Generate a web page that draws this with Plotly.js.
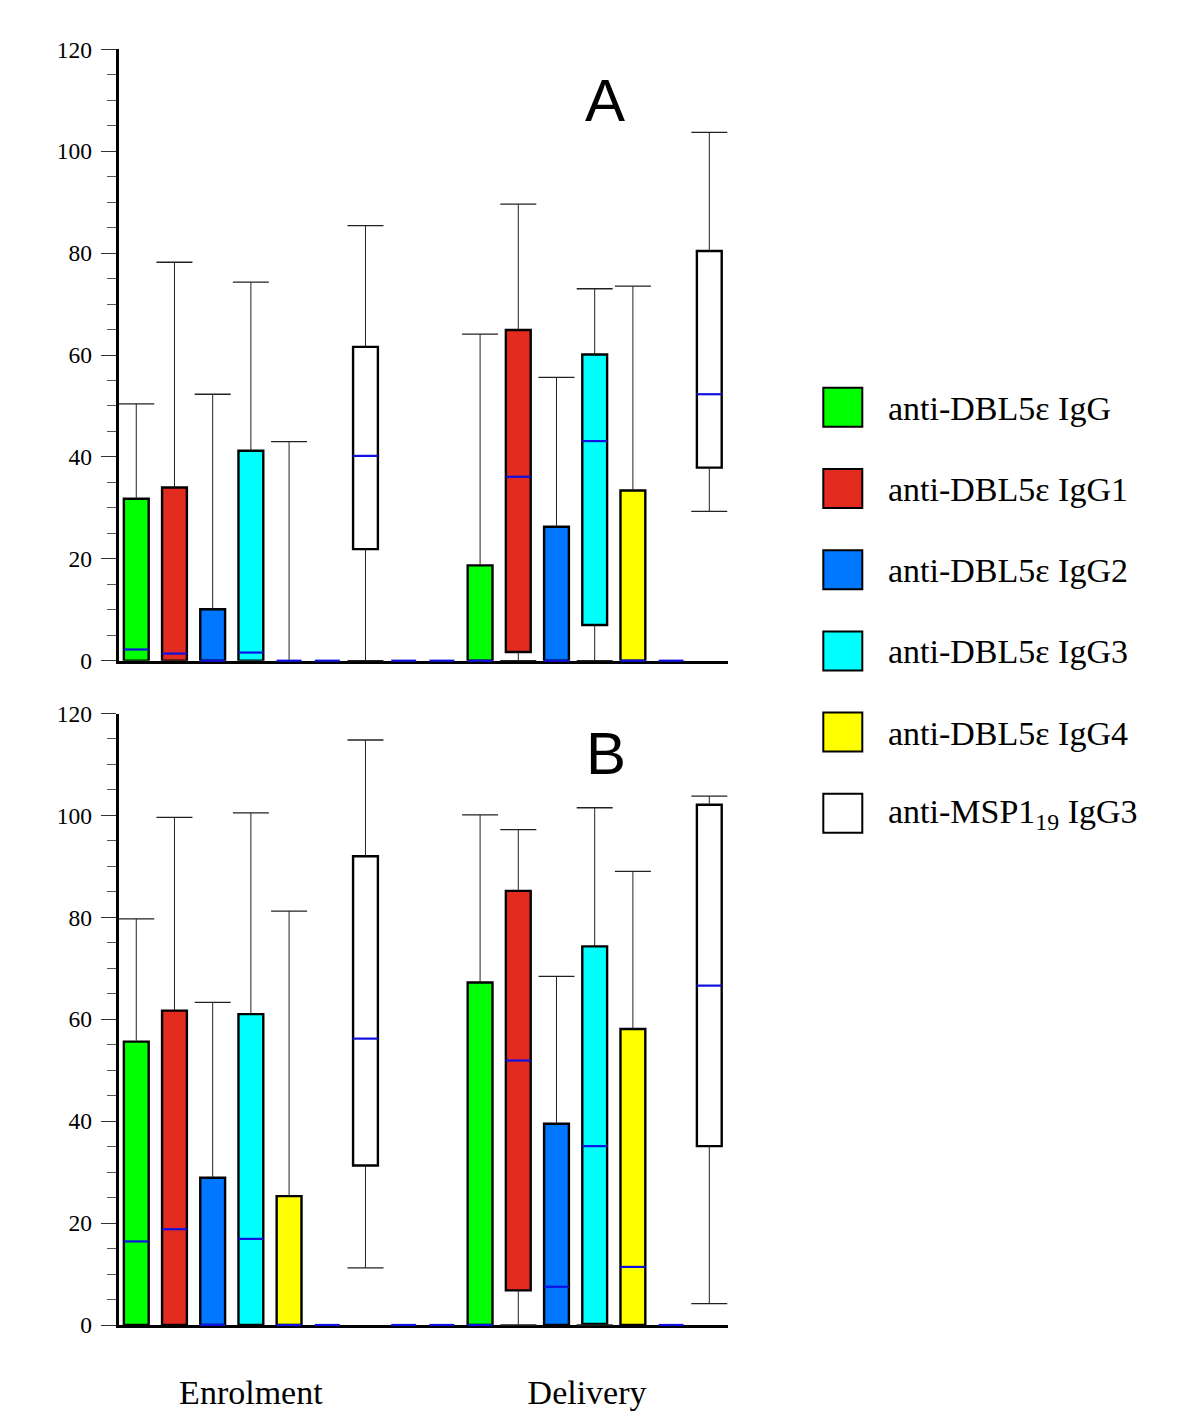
<!DOCTYPE html>
<html><head><meta charset="utf-8">
<script src="https://cdn.plot.ly/plotly-3.0.1.min.js"></script>
<style>body{margin:0;background:#fff}</style>
</head><body><div id="chart" style="width:1200px;height:1417px"></div>
<script>
// ---- data ----
const seriesNames = ['anti-DBL5ε IgG','anti-DBL5ε IgG1','anti-DBL5ε IgG2','anti-DBL5ε IgG3','anti-DBL5ε IgG4','anti-MSP1<sub>19</sub> IgG3'];
const seriesColors = ['#00ff00','#e42b20','#0077ff','#00ffff','#ffff00','#ffffff'];
const timepoints = ['Enrolment','Delivery'];
// series drawn in each of the 16 box positions (-1 = empty position)
const slotSeries = [0,1,2,3,4,-1,5,-1,-1,0,1,2,3,4,-1,5];

// Panel A
const A_min    = [0,0,0,0,0,0,0,     0,0, 0,0,0,0,0,0,29.3];
const A_q1     = [0,0,0,0,0,0,21.9,  0,0, 0,1.7,0,7.0,0,0,37.9];
const A_median = [2.2,1.4,0,1.6,0,0,40.2, 0,0, 0,36.1,0,43.1,0,0,52.3];
const A_q3     = [31.8,34.0,10.1,41.2,0,0,61.6, 0,0, 18.7,64.9,26.3,60.1,33.4,0,80.4];
const A_max    = [50.4,78.2,52.3,74.3,43.0,0,85.4, 0,0, 64.1,89.6,55.6,73.0,73.5,0,103.7];

// Panel B
const B_min    = [0,0,0,0,0,0,11.2,  0,0, 0,0,0,0,0,0,4.2];
const B_q1     = [0,0,0,0,0,0,31.3,  0,0, 0,6.8,0,0.2,0,0,35.1];
const B_median = [16.4,18.8,0,16.9,0,0,56.2, 0,0, 0,51.9,7.5,35.1,11.4,0,66.6];
const B_q3     = [55.6,61.7,28.9,61.0,25.3,0,92.0, 0,0, 67.2,85.2,39.5,74.3,58.1,0,102.1];
const B_max    = [79.7,99.6,63.3,100.5,81.2,0,114.8, 0,0, 100.1,97.2,68.4,101.5,89.0,0,103.8];

const yTicks = [0,20,40,60,80,100,120];

// ---- build ----
const W = 1200, H = 1417;
const px = v => v / W, py = v => 1 - v / H;
const SERIF = 'Liberation Serif, Times New Roman, serif';
const SANS = 'Liberation Sans, Arial, sans-serif';

function panelTraces(mn, q1, md, q3, mx, xa, ya) {
  const traces = [];
  const bx = [], bb = [], by = [], bc = [];
  const wx = [], wy = [];
  const cx = [], cy = [];
  const mxs = [], mys = [];
  slotSeries.forEach((s, i) => {
    if (q3[i] > q1[i]) {
      bx.push(i); bb.push(q1[i]); by.push(q3[i] - q1[i]);
      bc.push(s >= 0 ? seriesColors[s] : '#ffffff');
    }
    if (mx[i] > q3[i]) { wx.push(i, i, null); wy.push(q3[i], mx[i], null); cx.push(i); cy.push(mx[i]); }
    if (mn[i] < q1[i]) { wx.push(i, i, null); wy.push(q1[i], mn[i], null); cx.push(i); cy.push(mn[i]); }
    mxs.push(i); mys.push(md[i]);
  });
  traces.push({type:'scatter', mode:'lines', x:wx, y:wy, xaxis:xa, yaxis:ya,
    line:{color:'#222', width:1}, hoverinfo:'skip', showlegend:false, cliponaxis:false});
  traces.push({type:'scatter', mode:'markers', x:cx, y:cy, xaxis:xa, yaxis:ya,
    marker:{symbol:'line-ew', size:25.7, line:{color:'#222', width:1.3}}, hoverinfo:'skip', showlegend:false, cliponaxis:false});
  traces.push({type:'bar', x:bx, base:bb, y:by, xaxis:xa, yaxis:ya, width:0.65,
    marker:{color:bc, line:{color:'#000', width:2.4}}, hoverinfo:'skip', showlegend:false});
  traces.push({type:'scatter', mode:'markers', x:mxs, y:mys, xaxis:xa, yaxis:ya,
    marker:{symbol:'line-ew', size:17.8, line:{color:'#1010e0', width:2.2}}, hoverinfo:'skip', showlegend:false, cliponaxis:false});
  return traces;
}

const data = [].concat(
  panelTraces(A_min, A_q1, A_median, A_q3, A_max, 'x', 'y'),
  panelTraces(B_min, B_q1, B_median, B_q3, B_max, 'x2', 'y2')
);

const xDom = [px(118.7), px(728.4)];
const xRange = [-0.46, 15.5];
const yAxisBase = {
  range:[0,120], tickvals:yTicks, ticks:'outside', ticklen:15, tickwidth:1, tickcolor:'#333',
  minor:{dtick:5, ticks:'outside', ticklen:9, tickwidth:1, tickcolor:'#555'},
  showline:true, linewidth:3, linecolor:'#000', showgrid:false, zeroline:false,
  tickfont:{family:SERIF, size:23.5, color:'#000'}, ticklabelstandoff:4, fixedrange:true
};
const xAxisBase = {
  domain:xDom, range:xRange, showline:true, linewidth:3, linecolor:'#000', ticks:'',
  showgrid:false, zeroline:false, layer:'below traces', fixedrange:true
};

const groupCenters = [3, 11.8];

const shapes = [], annotations = [];
const legTop = 407.3, legStep = 81.2;
seriesNames.forEach((name, k) => {
  const cy = legTop + k * legStep;
  shapes.push({type:'rect', xref:'paper', yref:'paper', x0:px(823.3), x1:px(862.3), y0:py(cy-19.5), y1:py(cy+19.5),
    fillcolor:seriesColors[k], line:{color:'#000', width:2}});
  annotations.push({xref:'paper', yref:'paper', x:px(886), y:py(cy+1), xanchor:'left', yanchor:'middle',
    text:name, showarrow:false, font:{family:SERIF, size:34, color:'#000'}});
});
annotations.push({xref:'paper', yref:'paper', x:px(605), y:py(100), xanchor:'center', yanchor:'middle',
  text:'A', showarrow:false, font:{family:SANS, size:60, color:'#000'}});
annotations.push({xref:'paper', yref:'paper', x:px(606), y:py(753), xanchor:'center', yanchor:'middle',
  text:'B', showarrow:false, font:{family:SANS, size:60, color:'#000'}});

const layout = {
  width:W, height:H, autosize:false, margin:{l:0, r:0, t:0, b:0},
  paper_bgcolor:'#fff', plot_bgcolor:'rgba(0,0,0,0)', showlegend:false,
  barmode:'overlay',
  xaxis: Object.assign({}, xAxisBase, {anchor:'y', showticklabels:false}),
  yaxis: Object.assign({}, yAxisBase, {anchor:'x', domain:[py(660.7), py(49.3)]}),
  xaxis2: Object.assign({}, xAxisBase, {anchor:'y2', tickvals:groupCenters, ticktext:timepoints,
    tickfont:{family:SERIF, size:34, color:'#000'}, ticklabelstandoff:35}),
  yaxis2: Object.assign({}, yAxisBase, {anchor:'x2', domain:[py(1325), py(713.5)]}),
  shapes:shapes, annotations:annotations
};

Plotly.newPlot('chart', data, layout, {displayModeBar:false, staticPlot:true});
</script></body></html>
